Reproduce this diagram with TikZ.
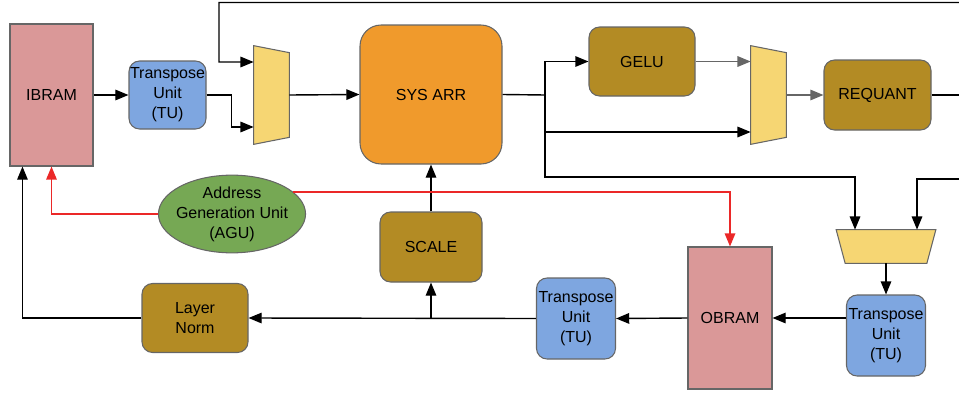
\documentclass[tikz,border=0pt]{standalone}
\usepackage{fontspec}
\setmainfont{Liberation Sans}
\usetikzlibrary{positioning,arrows.meta,shapes.geometric}

\definecolor{edge}{RGB}{102,102,102}
\definecolor{ramfill}{RGB}{218,152,152}
\definecolor{tublue}{RGB}{126,166,224}
\definecolor{muxfill}{RGB}{246,214,115}
\definecolor{sysfill}{RGB}{240,154,44}
\definecolor{gold}{RGB}{179,139,36}
\definecolor{agufill}{RGB}{118,168,84}
\definecolor{addrred}{RGB}{235,40,40}

\begin{document}
\begin{tikzpicture}[
  font=\fontsize{9.1}{11.4}\selectfont,
  mem/.style={draw=edge, line width=0.6pt, fill=ramfill, minimum width=1.66cm, minimum height=2.84cm, inner sep=0},
  tu/.style={draw=edge, line width=0.6pt, fill=tublue, rounded corners=6pt, align=center, minimum width=1.58cm, minimum height=1.62cm, inner sep=0},
  blk/.style={draw=edge, line width=0.6pt, fill=gold, rounded corners=6pt, align=center, minimum width=2.12cm, minimum height=1.38cm, inner sep=0},
  muxv/.style={minimum width=0.70cm, minimum height=1.96cm, inner sep=0},
  muxh/.style={minimum width=1.98cm, minimum height=0.66cm, inner sep=0},
  muxs/.style={draw=edge, line width=0.6pt, fill=muxfill},
  ln/.style={line width=0.8pt},
  arr/.style={ln, -{Triangle[length=7.5pt,width=6pt]}},
  garr/.style={arr, draw=edge, -{Triangle[length=7.5pt,width=6pt,fill=edge]}},
  redarr/.style={line width=0.9pt, draw=addrred, -{Triangle[length=7.5pt,width=6pt,fill=addrred]}}
]
\useasboundingbox (0,0) rectangle (19.18,-7.88);
% memories and units
\node[mem] (ibram) at (1.03,-1.90) {IBRAM};
\node[tu, minimum width=1.54cm, minimum height=1.36cm] (tu1) at (3.35,-1.90) {Transpose\\Unit\\(TU)};
\node[draw=edge, line width=0.6pt, fill=sysfill, rounded corners=12pt, minimum width=2.84cm, minimum height=2.78cm] (sys) at (8.62,-1.89) {SYS ARR};
\node[blk] (gelu) at (12.84,-1.23) {GELU};
\node[blk, minimum width=2.14cm, minimum height=1.40cm] (req) at (17.55,-1.90) {REQUANT};
\node[blk, minimum width=2.04cm, minimum height=1.40cm] (scale) at (8.62,-4.94) {SCALE};
\node[blk] (lnorm) at (3.90,-6.36) {Layer\\Norm};
\node[tu] (tu2) at (11.52,-6.37) {Transpose\\Unit\\(TU)};
\node[mem, minimum width=1.68cm] (obram) at (14.60,-6.36) {OBRAM};
\node[tu] (tu3) at (17.72,-6.71) {Transpose\\Unit\\(TU)};
\node[ellipse, draw=edge, line width=0.6pt, fill=agufill, align=center, minimum width=2.86cm, minimum height=1.52cm, inner sep=0, inner xsep=-0.08cm] (agu) at (4.64,-4.28) {Address\\Generation Unit\\(AGU)};
% multiplexers
\node[muxv] (m1) at (5.43,-1.90) {};
\draw[muxs] (m1.north west) -- ([yshift=-0.14cm]m1.north east) -- ([yshift=0.14cm]m1.south east) -- (m1.south west) -- cycle;
\node[muxv] (m2) at (15.37,-1.90) {};
\draw[muxs] (m2.north west) -- ([yshift=-0.14cm]m2.north east) -- ([yshift=0.14cm]m2.south east) -- (m2.south west) -- cycle;
\node[muxh] (m3) at (17.72,-4.93) {};
\draw[muxs] (m3.north west) -- (m3.north east) -- ([xshift=-0.18cm]m3.south east) -- ([xshift=0.18cm]m3.south west) -- cycle;
% free ends at the right border
\coordinate (fbk) at (19.18,-0.05);
\coordinate (rqo) at (19.18,-1.90);
\coordinate (m3r) at (19.18,-3.58);
\coordinate (jn) at (10.90,-1.90);
% data path
\draw[arr] (ibram.east) -- (tu1.west);
\draw[arr] (tu1.east) -- ++(0.5,0) |- ([yshift=-0.64cm]m1.west);
\draw[arr] (fbk) -| (4.38,-1.24) -- ([yshift=0.66cm]m1.west);
\draw[arr] (m1.east) -- (sys.west);
\draw[ln] (sys.east) -- (jn);
\draw[arr] (jn) |- (gelu.west);
\draw[arr] (jn) |- ([yshift=-0.74cm]m2.west);
\draw[arr] (jn) |- (17.10,-3.54) -- ([xshift=-0.62cm]m3.north);
\draw[garr] (gelu.east) -- (gelu.east -| m2.west);
\draw[garr] (m2.east) -- (req.west);
\draw[ln] (req.east) -- (rqo);
\draw[arr] (m3r) -| ([xshift=0.62cm]m3.north);
\draw[arr] (m3.south) -- (tu3.north);
\draw[arr] (tu3.west |- obram) -- (obram.east);
\draw[arr] (obram.west) -- (tu2.east);
\draw[arr] (tu2.west) -- (lnorm.east);
\draw[arr] (tu2.west -| scale) -- (scale.south);
\draw[arr] (scale.north) -- (sys.south);
\draw[arr] (lnorm.west) -| ([xshift=0.26cm]ibram.south west);
% address lines
\draw[redarr] (agu.west) -| (ibram.south);
\draw[redarr] (agu.20) -| (obram.north);
\end{tikzpicture}
\end{document}
